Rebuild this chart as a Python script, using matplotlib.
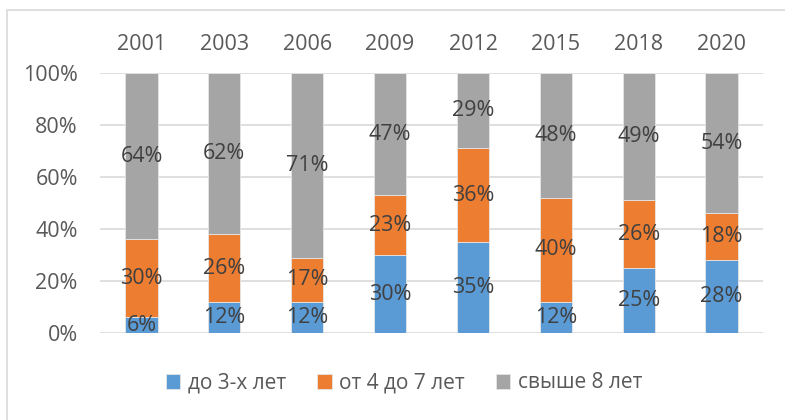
"""Stacked 100% bar chart: share of groups by years."""

import matplotlib
matplotlib.use("Agg")
from matplotlib import pyplot as plt
from matplotlib.patches import Rectangle
import numpy as np

years = ["2001", "2003", "2006", "2009", "2012", "2015", "2018", "2020"]
up_to_3 = [6, 12, 12, 30, 35, 12, 25, 28]
from_4_to_7 = [30, 26, 17, 23, 36, 40, 26, 18]
over_8 = [64, 62, 71, 47, 29, 48, 49, 54]
series_names = ["до 3-х лет", "от 4 до 7 лет", "свыше 8 лет"]
colors = ["#5B9BD5", "#ED7D31", "#A5A5A5"]


def main():
    plt.rcParams["font.family"] = ["Open Sans", "DejaVu Sans"]
    fig = plt.figure(figsize=(7.85, 4.2), dpi=100)
    ax = fig.add_axes([0.1274, 0.207, 0.8446, 0.619])

    # chart frame (only top and left edges are visible in the picture)
    fig.patches.append(Rectangle((7 / 785, -0.1), 1.2, 1.1 - 10 / 420,
                                 transform=fig.transFigure, fill=False,
                                 edgecolor="#D9D9D9", linewidth=1.2))

    x = np.arange(len(years))
    bottom = np.zeros(len(years))
    for name, values, color in zip(series_names,
                                   [up_to_3, from_4_to_7, over_8], colors):
        values = np.array(values, dtype=float)
        ax.bar(x, values, 0.39, bottom=bottom, color=color, label=name,
               edgecolor="#E6E6E6", linewidth=0.6, zorder=2)
        for xi, b, v in zip(x, bottom, values):
            ax.text(xi, b + v / 2, f"{int(v)}%", ha="center", va="center",
                    fontsize=15.5, color="#404040", zorder=3)
        bottom += values

    ax.set_xlim(-0.5, len(years) - 0.5)
    ax.set_ylim(0, 100)
    ax.set_yticks(range(0, 101, 20))
    ax.set_yticklabels([f"{v}%" for v in range(0, 101, 20)])
    ax.set_xticks(x)
    ax.set_xticklabels(years)
    ax.xaxis.tick_top()
    ax.tick_params(axis="x", length=0, pad=13, labelsize=15.5,
                   labelcolor="#595959")
    ax.tick_params(axis="y", length=0, pad=16, labelsize=15.5,
                   labelcolor="#595959")
    ax.grid(axis="y", color="#D9D9D9", linewidth=1.2, zorder=0)
    for spine in ax.spines.values():
        spine.set_visible(False)

    fig.legend(loc="center", bbox_to_anchor=(404 / 785, 1 - 383 / 420),
               ncol=3, frameon=False, fontsize=15, handlelength=0.7,
               handleheight=0.7, handletextpad=0.35, columnspacing=1.5,
               labelcolor="#595959")

    plt.savefig("out.png")
    plt.close()


if __name__ == "__main__":
    main()
